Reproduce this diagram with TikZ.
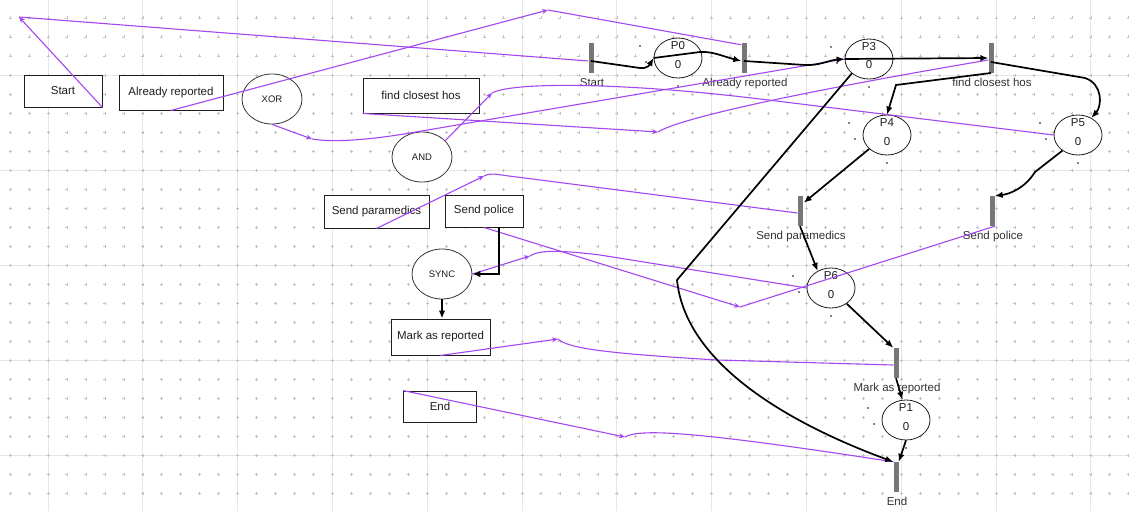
\documentclass[tikz,border=0pt]{standalone}
\usepackage{fontspec}
\setmainfont{Liberation Sans}
\usetikzlibrary{shapes.geometric,arrows.meta,calc}

\definecolor{gridline}{HTML}{E6E6E6}
\definecolor{gridmark}{HTML}{C2C2C2}
\definecolor{flow}{HTML}{A347F0}
\definecolor{barfill}{HTML}{777777}
\definecolor{ink}{HTML}{1E1E1E}
\definecolor{soft}{HTML}{333333}

\begin{document}
\begin{tikzpicture}[x=1pt,y=-1pt,
  every node/.style={text=ink, font=\fontsize{11.5}{13.8}\selectfont},
  boxnode/.style={rectangle, draw=ink, line width=0.9pt, fill=white, inner sep=0pt},
  gatenode/.style={ellipse, draw=soft, line width=0.8pt, fill=white, inner sep=0pt,
    minimum width=60pt, minimum height=50pt, font=\fontsize{9.5}{11}\selectfont},
  pnode/.style={ellipse, draw=ink, line width=0.8pt, fill=white, inner sep=0pt,
    minimum width=48pt, minimum height=40pt},
  tbar/.style={rectangle, fill=barfill, inner sep=0pt, minimum width=5pt, minimum height=30pt},
  ptext/.style={anchor=base, inner sep=0pt},
  arcline/.style={black, line width=1.7pt, -{Latex[length=8pt,width=6.5pt]}},
  linkline/.style={flow, line width=1.1pt},
  linktip/.style={linkline, -{Stealth[length=6pt,width=5pt]}}
]
\useasboundingbox (0,0) rectangle (1129,511);
\fill[white] (0,0) rectangle (1129,511);

% editor grid: major lines and small cross marks
\foreach \i in {0,...,11}
  \draw[gridline, line width=1pt] ({48+94.8*\i},0) -- ({48+94.8*\i},511);
\foreach \j in {0,...,4}
  \draw[gridline, line width=1pt] (0,{75+95*\j}) -- (1129,{75+95*\j});
\draw[gridmark, line width=0.6pt]
  \foreach \i in {-2,...,57} { \foreach \j in {-3,...,22} {
    ({48+18.96*\i-1.5},{75+19*\j}) -- ++(3,0)
    ({48+18.96*\i},{75+19*\j-1.5}) -- ++(0,3) } };

% process model (left)
\node[boxnode, minimum width=78pt, minimum height=32pt] (bStart) at (63,91) {Start};
\node[boxnode, minimum width=104pt, minimum height=35pt] (bAlready) at (171,92.5) {Already reported};
\node[gatenode] (eXOR) at (272,99) {XOR};
\node[boxnode, minimum width=116pt, minimum height=35pt] (bFind) at (421,95.5) {find closest hos};
\node[gatenode] (eAND) at (422,157) {AND};
\node[boxnode, minimum width=105pt, minimum height=33pt] (bPara) at (376.5,211.5) {Send paramedics};
\node[boxnode, minimum width=78pt, minimum height=32pt] (bPolice) at (484,211) {Send police};
\node[gatenode] (eSYNC) at (442,274) {SYNC};
\node[boxnode, minimum width=99pt, minimum height=36pt] (bMark) at (440.5,337) {Mark as reported};
\node[boxnode, minimum width=73pt, minimum height=31pt] (bEnd) at (440,406.5) {End};

% Petri net transitions
\foreach \n/\x/\y/\t in {tStart/591/58/Start, tAlready/744/58/Already reported,
    tFind/991/58/find closest hos, tPara/800/211/Send paramedics,
    tPolice/992/211/Send police, tMark/896/363/Mark as reported, tEnd/896/477/End}{
  \node[tbar] (\n) at (\x,\y) {};
  \node[ptext, text=soft] (\n-label) at ($(\n.south)+(1,13.5)$) {\t};
}

% Petri net places with token counts
\foreach \n/\x/\y in {P0/678/58, P3/869/59, P4/887/135, P5/1078/135, P6/831/288, P1/906/420}{
  \node[pnode] (\n) at (\x,\y) {};
  \node[ptext] (\n-name) at ($(\n)+(0,-8.5)$) {\n};
  \node[ptext] (\n-tok) at ($(\n)+(0,10)$) {0};
  \fill ($(\n)+(-38,-12)$) circle (0.8) ($(\n)+(-32,4)$) circle (0.8) ($(\n)+(0,28)$) circle (0.8);
}

% bend points of the mapping links
\coordinate (mStart) at (19,17);
\coordinate (mAlready) at (548,10);
\coordinate (mXOR) at (312,139);
\coordinate (mFind) at (658,132);
\coordinate (mAND) at (492,93);
\coordinate (mPara) at (484,176);
\coordinate (mPolice) at (740,307);
\coordinate (mSync) at (530,256);
\coordinate (mMark) at (558,339);
\coordinate (mEnd) at (625,437);

% mapping links from the model to the net
\draw[linktip] (bStart.south east) -- (mStart);
\draw[linkline] (mStart) -- ($(tStart.west)+(0,3)$);
\draw[linktip] (bAlready.south) -- (mAlready);
\draw[linkline] (mAlready) -- ($(tAlready.north west)+(0,2)$);
\draw[linktip] (eXOR.south) -- (mXOR);
\draw[linkline] (mXOR) .. controls (335,143) and (375,139) .. (410,133) -- (P3.west);
\draw[linktip] (bFind.south west) -- (mFind);
\draw[linkline] (mFind) .. controls (680,118) and (800,92) .. ($(tFind.west)+(0,2)$);
\draw[linktip] (eAND.35) -- (mAND);
\draw[linkline] (mAND) .. controls (512,82) and (620,82) .. (760,99) -- (P5.west);
\draw[linktip] (bPara.south) -- (mPara);
\draw[linkline] (mPara) .. controls (489,173) and (495,174) .. (505,175.5) -- ($(tPara.west)+(0,2)$);
\draw[linktip] (bPolice.south) -- (mPolice);
\draw[linkline] (mPolice) -- (tPolice.south east);
\draw[linktip] (eSYNC.east) -- (mSync);
\draw[linkline] (mSync) .. controls (538,250) and (560,250) .. (600,255) -- (P6.west);
\draw[linktip] (bMark.south) -- (mMark);
\draw[linkline] (mMark) .. controls (568,348) and (600,353) .. (717,360) -- ($(tMark.west)+(0,2)$);
\draw[linktip] (bEnd.north west) -- (mEnd);
\draw[linkline] (mEnd) .. controls (640,428) and (700,432) .. (tEnd.north west);

% model flow
\draw[arcline] ($(bPolice.south)+(15,0)$) |- (eSYNC.east);
\draw[arcline] (eSYNC.south) -- (eSYNC.south |- bMark.north);

% net arcs
\draw[arcline] ($(tStart)+(0,3)$) -- (640,68) .. controls (648,69) and (650,64) .. (P0.west);
\draw[arcline] (P0.west) -- (700,52) .. controls (712,51) and (725,57) .. ($(tAlready.west)+(0,3)$);
\draw[arcline] ($(tAlready)+(0,3)$) -- (805,65) .. controls (818,66) and (830,60) .. (P3.west);
\draw[arcline] (P3.west) -- (tFind.west);
\draw[arcline] ($(tFind)+(0,15)$) -- (896,85) -- (P4.north);
\draw[arcline] ($(tFind)+(0,4)$) -- (1085,78) .. controls (1103,84) and (1102,106) .. (P5.52);
\draw[arcline] (P3.220) -- (677,280) .. controls (685,360) and (780,420) .. (tEnd.north west);
\draw[arcline] (P4.218) -- ($(tPara.north east)+(1,7)$);
\draw[arcline] (P5.225) -- (1035,172) .. controls (1025,188) and (1010,194) .. (tPolice.north east);
\draw[arcline] (tPara.south) -- (P6.128);
\draw[arcline] (P6.315) -- (tMark.north west);
\draw[arcline] (tMark.south) -- (P1.100);
\draw[arcline] (P1.south) -- (tEnd.north east);
\end{tikzpicture}
\end{document}
